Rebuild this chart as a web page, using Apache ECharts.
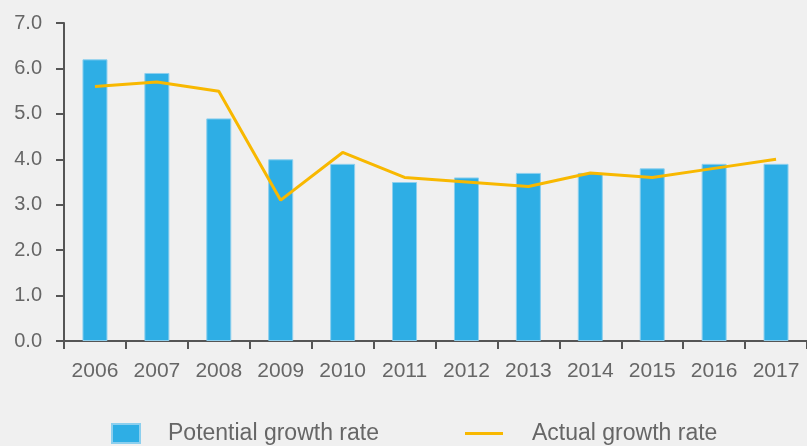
<!DOCTYPE html>
<html>
<head>
<meta charset="utf-8">
<script src="https://cdn.jsdelivr.net/npm/echarts@6/dist/echarts.min.js"></script>
<style>
html,body{margin:0;padding:0;background:#f0f0f0;}
#c{width:807px;height:446px;}
</style>
</head>
<body>
<div id="c"></div>
<script>
var categories = ['2006','2007','2008','2009','2010','2011','2012','2013','2014','2015','2016','2017'];
var potential = [6.2, 5.9, 4.9, 4.0, 3.9, 3.5, 3.6, 3.7, 3.7, 3.8, 3.9, 3.9];
var actual = [5.6, 5.7, 5.5, 3.1, 4.15, 3.6, 3.5, 3.4, 3.7, 3.6, 3.8, 4.0];
var yTicks = ['0.0','1.0','2.0','3.0','4.0','5.0','6.0','7.0'];

var FONT = 'Liberation Sans';
var chart = echarts.init(document.getElementById('c'), null, {renderer:'canvas'});
chart.setOption({
  backgroundColor: '#f0f0f0',
  animation: false,
  grid: {left: 64, right: -1, top: 23, bottom: 105, containLabel: false},
  legend: [{
    left: 111, top: 422, padding: 0,
    itemWidth: 28, itemHeight: 19,
    icon: 'rect',
    data: ['Potential growth rate'],
    textStyle: {fontFamily: FONT, fontSize: 23, color: '#666666', padding: [0,0,0,23]}
  },{
    left: 465, top: 422, padding: 0,
    itemWidth: 38, itemHeight: 19,
    icon: 'path://M0,8 L38,8 L38,11 L0,11 Z',
    data: ['Actual growth rate'],
    textStyle: {fontFamily: FONT, fontSize: 23, color: '#666666', padding: [0,0,0,24]}
  }],
  xAxis: {
    type: 'category',
    data: categories,
    boundaryGap: true,
    axisLine: {lineStyle: {color: '#555555', width: 2}},
    axisTick: {show: true, length: 8, lineStyle: {color: '#555555', width: 2}},
    axisLabel: {fontFamily: FONT, fontSize: 21, color: '#666666', margin: 20, interval: 0}
  },
  yAxis: {
    type: 'value',
    min: 0, max: 7, interval: 1,
    splitLine: {show: false},
    axisLine: {show: true, lineStyle: {color: '#555555', width: 2}},
    axisTick: {show: true, length: 8, lineStyle: {color: '#555555', width: 2}},
    axisLabel: {
      fontFamily: FONT, fontSize: 20, color: '#666666', margin: 22,
      formatter: function(v){ return yTicks[Math.round(v)]; }
    }
  },
  series: [{
    name: 'Potential growth rate',
    type: 'bar',
    data: potential,
    barWidth: 25,
    itemStyle: {color: '#2eaee5', borderColor: '#8ccfee', borderWidth: 1}
  },{
    name: 'Actual growth rate',
    type: 'line',
    data: actual,
    symbol: 'none',
    lineStyle: {color: '#f8b800', width: 3},
    itemStyle: {color: '#f8b800'}
  }]
});
</script>
</body>
</html>
